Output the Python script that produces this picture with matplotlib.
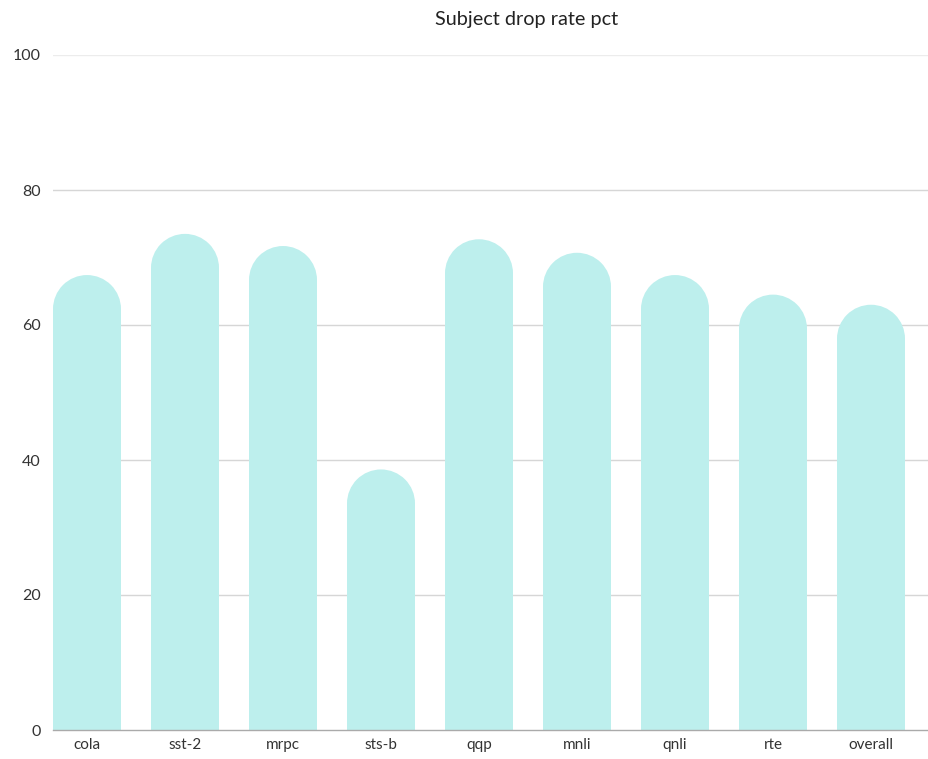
import matplotlib
matplotlib.use("Agg")
import matplotlib.pyplot as plt
from matplotlib.patches import Ellipse

categories = ["cola", "sst-2", "mrpc", "sts-b", "qqp", "mnli", "qnli", "rte", "overall"]
values = [67.4, 73.5, 71.7, 38.6, 72.7, 70.7, 67.4, 64.5, 63.0]
yticks = [0, 20, 40, 60, 80, 100]
title = "Subject drop rate pct"

plt.rcParams['font.family'] = ['Lato', 'DejaVu Sans']
W, H = 929, 759
fig = plt.figure(figsize=(W / 100, H / 100), dpi=100)
left_px, right_px = 53, 53 + 98 * 9
bottom_px, top_px = 730, 55
ax = fig.add_axes([left_px / W, 1 - bottom_px / H, (right_px - left_px) / W, (bottom_px - top_px) / H])
ax.set_xlim(0, len(categories))
ax.set_ylim(0, 100)

color = "#bdefed"
bw = 68 / 98
ry = 34 / 6.75  # radius in data units (y)
xs = list(range(len(categories)))
ax.bar(xs, [v - ry for v in values], width=bw, align="edge", color=color, zorder=2, linewidth=0)
for x, v in zip(xs, values):
    ax.add_patch(Ellipse((x + bw / 2, v - ry), bw, 2 * ry, facecolor=color, edgecolor="none", zorder=2))

ax.set_yticks(yticks)
ax.set_yticklabels([str(t) for t in yticks], fontsize=11.5, color="#333333")
ax.set_xticks([x + bw / 2 for x in xs])
ax.set_xticklabels(categories, fontsize=11, color="#333333")
ax.tick_params(axis="both", length=0)
ax.tick_params(axis="y", pad=9)
ax.tick_params(axis="x", pad=6)
for t in yticks[1:-1]:
    ax.axhline(t, color="#d6d6d6", lw=1, zorder=1)
ax.axhline(100, color="#ececec", lw=1, zorder=1)
for s in ["top", "right", "left"]:
    ax.spines[s].set_visible(False)
ax.spines["bottom"].set_color("#aaaaaa")
ax.spines["bottom"].set_linewidth(1)
ax.spines["bottom"].set_zorder(3)

fig.text(527 / W, 1 - 20 / H, title, ha="center", va="center", fontsize=14.3, color="#222222")
fig.savefig("out.png", dpi=100)
